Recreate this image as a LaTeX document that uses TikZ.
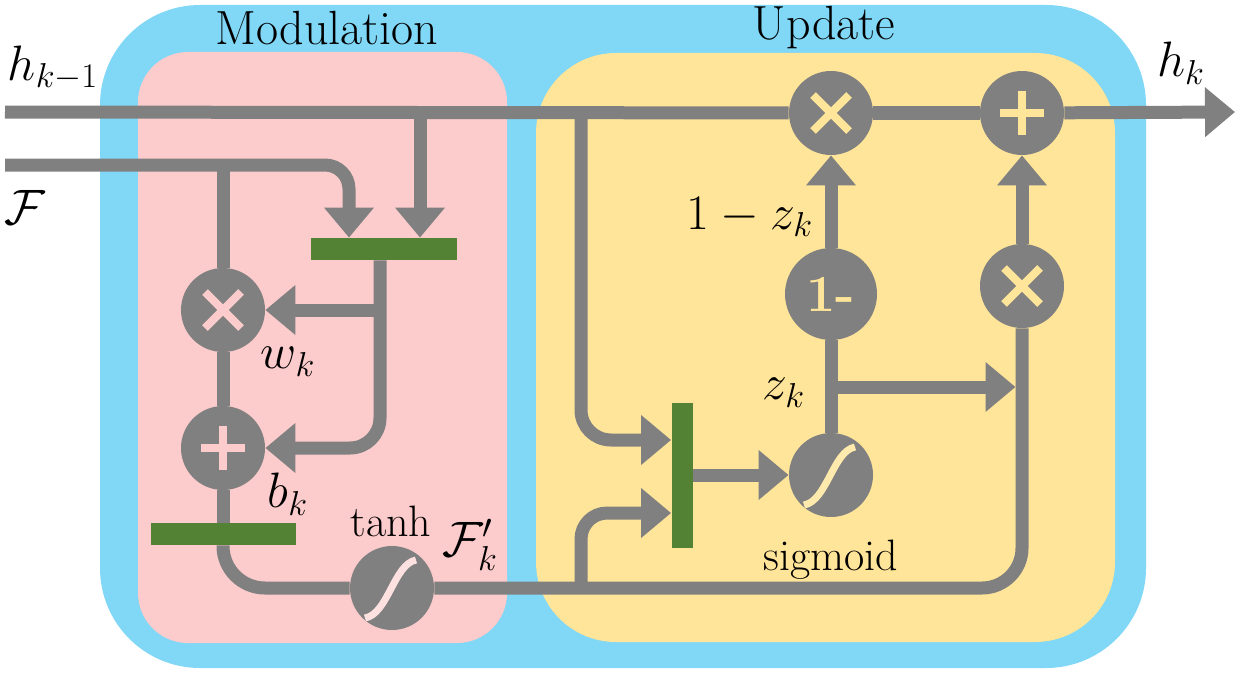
\documentclass[tikz,border=0pt]{standalone}
\usepackage{amsmath}
\usepackage{amssymb}
\usetikzlibrary{arrows.meta,positioning}
\definecolor{outerblue}{RGB}{128,215,246}
\definecolor{modpink}{RGB}{252,203,203}
\definecolor{updyellow}{RGB}{255,229,153}
\definecolor{gategreen}{RGB}{84,130,53}
\definecolor{wiregray}{RGB}{128,128,128}
\tikzset{
  op/.style={circle, fill=wiregray, minimum size=42pt, inner sep=0pt},
  timesop/.style={op, path picture={
    \draw[#1, line width=4pt]
      ([shift={(-9pt,-9pt)}]path picture bounding box.center) -- ([shift={(9pt,9pt)}]path picture bounding box.center)
      ([shift={(-9pt,9pt)}]path picture bounding box.center) -- ([shift={(9pt,-9pt)}]path picture bounding box.center);}},
  plusop/.style={op, path picture={
    \draw[#1, line width=3.6pt]
      ([shift={(-11pt,0pt)}]path picture bounding box.center) -- ([shift={(11pt,0pt)}]path picture bounding box.center)
      ([shift={(0pt,-11pt)}]path picture bounding box.center) -- ([shift={(0pt,11pt)}]path picture bounding box.center);}},
  sigop/.style={op, path picture={
    \draw[#1, line width=3.5pt]
      ([shift={(-13.5pt,-15pt)}]path picture bounding box.center)
      .. controls ([shift={(-2pt,-13pt)}]path picture bounding box.center)
      and ([shift={(1pt,12pt)}]path picture bounding box.center)
      .. ([shift={(12pt,14pt)}]path picture bounding box.center);}},
  gate/.style={fill=gategreen, inner sep=0pt},
  wire/.style={draw=wiregray, line width=6.5pt},
  arrow/.style={wire, -{Triangle[length=15pt, width=24pt]}},
  lbl/.style={font=\fontsize{24}{28}\selectfont, inner sep=0pt},
  mlbl/.style={font=\fontsize{25}{30}\selectfont, inner sep=0pt},
  small/.style={font=\fontsize{22}{26}\selectfont, inner sep=0pt},
}

\begin{document}
\begin{tikzpicture}[x=0.5pt, y=-0.5pt]
  \useasboundingbox (0,0) rectangle (1240,674);

  % regions
  \fill[outerblue, rounded corners=50pt] (100,5) rectangle (1146,668);
  \fill[modpink, rounded corners=25pt] (138,52) rectangle (507,643);
  \fill[updyellow, rounded corners=40pt] (536,53) rectangle (1115,642);

  \node[lbl] (modtitle) at (327,28) {Modulation};
  \node[lbl] (updtitle) at (824,28) {Update};

  % modulation part
  \node[timesop=modpink] (mulw) at (223,310) {};
  \node[plusop=modpink] (addb) at (223,448) {};
  \node[sigop=modpink!60!white] (tanh) at (392,588) {};
  \node[gate, minimum width=73pt, minimum height=11pt] (gatetop) at (384,249) {};
  \node[gate, minimum width=72.5pt, minimum height=11pt] (gatebot) at (223,534) {};

  % update part
  \node[timesop=updyellow] (mulh) at (831,113) {};
  \node[plusop=updyellow] (addh) at (1022,113) {};
  \node[op, minimum size=46pt, text=updyellow, font=\fontsize{26}{28}\selectfont\bfseries] (onemin) at (831,294) {1-};
  \node[timesop=updyellow] (mulz) at (1022,286) {};
  \node[sigop=updyellow!80!white] (sig) at (831,475) {};
  \node[gate, minimum width=10.5pt, minimum height=72.5pt] (gateupd) at (682,475) {};

  \coordinate (hin) at (5,112);
  \coordinate (fin) at (5,165);
  \coordinate (hout) at (1235,112);
  \coordinate (htap) at (420,112);
  \coordinate (ftap) at (223,165);
  \coordinate (wtap) at (380,310);
  \coordinate (utap) at (581,112);
  \coordinate (lowtap) at (581,588);
  \coordinate (ztap) at (831,387);

  % wires
  \draw[wire] (hin) -- (mulh);
  \draw[wire] (mulh) -- (addh);
  \draw[arrow] (addh) -- (hout);
  \draw[arrow, rounded corners=12pt] (fin) -| ([xshift=-17.5pt]gatetop.north);
  \draw[wire] (ftap) -- (mulw);
  \draw[arrow] (htap) -- (htap |- gatetop.north);
  \draw[arrow, rounded corners=15pt] ([xshift=-2pt]gatetop.south) |- (addb);
  \draw[arrow] (wtap) -- (mulw);
  \draw[wire] (mulw) -- (addb);
  \draw[wire] (addb) -- (gatebot);
  \draw[wire, rounded corners=21pt] (gatebot.south) |- (tanh);
  \draw[wire, rounded corners=20pt] (tanh) -| (mulz);
  \draw[arrow, rounded corners=15pt] (utap) |- ([yshift=17.5pt]gateupd.west);
  \draw[arrow, rounded corners=13pt] (lowtap) |- ([yshift=-19pt]gateupd.west);
  \draw[arrow] (gateupd) -- (sig);
  \draw[wire] (sig) -- (onemin);
  \draw[arrow] (onemin) -- (mulh);
  \draw[arrow] (mulz) -- (addh);
  \draw[arrow, shorten >=3.25pt] (ztap) -- (ztap -| mulz);

  % labels
  \node[mlbl] at (53,68) {$h_{k-1}$};
  \node[mlbl] at (25,207) {$\mathcal{F}$};
  \node[mlbl] at (1181,63) {$h_k$};
  \node[mlbl] at (288,362) {$w_k$};
  \node[mlbl] at (288,494) {$b_k$};
  \node[small] at (391,521) {tanh};
  \node[mlbl] at (470,545) {$\mathcal{F}'_k$};
  \node[mlbl] at (784,393) {$z_k$};
  \node[small, below=11pt of sig] {sigmoid};
  \node[mlbl] at (750,217) {$1-z_k$};
\end{tikzpicture}
\end{document}
